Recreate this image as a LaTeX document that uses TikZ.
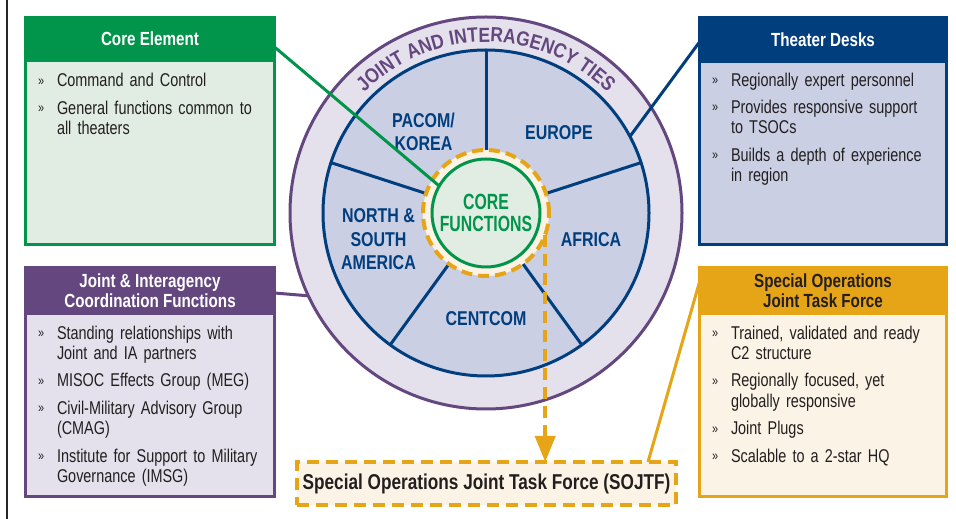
\documentclass[tikz,border=0pt]{standalone}
\usepackage{fontspec}
\setmainfont{Liberation Sans}[FakeStretch=0.8]
\newfontfamily\bodyf{Liberation Sans}[FakeStretch=0.78]
\newfontfamily\cffont{Liberation Sans}[FakeStretch=0.72]
\newfontfamily\ringfont{Liberation Sans}[FakeStretch=0.85,LetterSpace=2]
\usetikzlibrary{calc,arrows.meta,decorations.text}
\definecolor{cgreen}{HTML}{00954A}
\definecolor{cgreenl}{HTML}{E1ECE3}
\definecolor{cblue}{HTML}{003E7E}
\definecolor{cbluel}{HTML}{CACFE4}
\definecolor{cpurp}{HTML}{65477F}
\definecolor{cpurpl}{HTML}{E4E1EC}
\definecolor{corange}{HTML}{E6A417}
\definecolor{ccream}{HTML}{FBF3E5}
\definecolor{ctext}{HTML}{231F20}
\newcommand\bul[1]{\noindent\hangindent=19pt\hangafter=1\strut\makebox[19pt][l]{\fontsize{14}{14}\selectfont\raisebox{1.5pt}{»}}#1\par}
\begin{document}
\begin{tikzpicture}[x=1pt,y=1pt,
  circ/.style={circle,inner sep=0pt,outer sep=0pt},
  boxbody/.style={rectangle,inner sep=0pt,outer sep=0pt,line width=3pt},
  boxhead/.style={rectangle,inner sep=0pt,outer sep=0pt,align=center,
    font=\bfseries\fontsize{19}{20.5}\selectfont},
  bodytxt/.style={anchor=north west,inner sep=0pt,outer sep=0pt,text width=232pt,
    align=left,text=ctext,font=\bodyf\fontsize{18.5}{20.7}\selectfont},
  lbl/.style={inner sep=0pt,align=center,text=cblue,
    font=\bfseries\fontsize{20}{23.5}\selectfont},
  spoke/.style={draw=cblue,line width=3pt},
  conn/.style={line width=3pt}]
\useasboundingbox (0,0) rectangle (956,519);
\fill[white] (0,0) rectangle (956,519);
\draw[line width=1.2pt,black!85] (7,0) -- (7,519);
% wheel
\node[circ,draw=cpurp,fill=cpurpl,line width=3pt,minimum size=392pt] (outer) at (486,306) {};
\node[circ,draw=cblue,fill=cbluel,line width=3pt,minimum size=326pt] (inner) at (486,306) {};
\foreach \a in {90,18,162,234,306} \draw[spoke] (inner.center) -- (inner.\a);
\node[circ,draw=corange,fill=ccream,line width=4pt,dash pattern=on 11pt off 6pt,minimum size=126pt] (ring) at (486,306) {};
\path[decorate,decoration={text along path,text align=center,
  text={|\ringfont\bfseries\fontsize{20.5}{20.5}\selectfont\color{cpurp}|JOINT AND INTERAGENCY TIES}}]
  ($(outer.center)+(150:171)$) arc[start angle=150,end angle=30,radius=171];
\node[lbl] (pacom) at (423.5,387.2) {PACOM/\\KOREA};
\node[lbl] (europe) at (559,386) {EUROPE};
\node[lbl] (nsa) at (378.5,279.5) {NORTH \&\\SOUTH\\AMERICA};
\node[lbl] (africa) at (591,279) {AFRICA};
\node[lbl] (centcom) at (486,200) {CENTCOM};
% boxes
\node[boxbody,draw=cgreen,fill=cgreenl,minimum width=249pt,minimum height=227pt] (corebox) at (150,388) {};
\node[boxhead,fill=cgreen,text=white,minimum width=252pt,minimum height=46pt] (corehead) at (150,480) {Core Element};
\node[boxbody,draw=cblue,fill=cbluel,minimum width=247pt,minimum height=227pt] (thbox) at (823,388) {};
\node[boxhead,fill=cblue,text=white,minimum width=250pt,minimum height=47pt] (thhead) at (823,479.5) {Theater Desks};
\node[boxbody,draw=cpurp,fill=cpurpl,minimum width=249pt,minimum height=229pt] (jibox) at (150,137) {};
\node[boxhead,fill=cpurp,text=white,minimum width=252pt,minimum height=49pt] (jihead) at (150,228.5) {Joint \& Interagency\\Coordination Functions};
\node[boxbody,draw=corange,fill=ccream,minimum width=247pt,minimum height=229pt] (sobox) at (823,137) {};
\node[boxhead,fill=corange,text=ctext,minimum width=250pt,minimum height=49pt] (sohead) at (823,228.5) {Special Operations\\Joint Task Force};
\node[rectangle,inner sep=0pt,outer sep=0pt,draw=corange,fill=ccream,line width=4pt,
  dash pattern=on 12pt off 7pt,minimum width=379pt,minimum height=43pt,text=ctext,
  font=\bfseries\fontsize{21.5}{22}\selectfont] (sojtfb) at (486.5,35.5) {Special Operations Joint Task Force (SOJTF)};
% core
\node[circ,draw=cgreen,fill=cgreenl,line width=3pt,minimum size=108pt,align=center,text=cgreen,
  font=\cffont\bfseries\fontsize{22}{21.5}\selectfont] (core) at (486,306) {CORE\\FUNCTIONS};
% connectors
\coordinate (gA) at ($(corebox.north east)+(0,-29.5)$);
\coordinate (bA) at ($(thbox.north west)+(0,-24.5)$);
\coordinate (pA) at ($(jibox.north east)+(0,-25.5)$);
\coordinate (oA) at ($(sobox.north west)+(0,-14.5)$);
\coordinate (oB) at ($(sojtfb.north east)+(-28,0)$);
\draw[conn,cgreen] (gA) -- (core.150);
\draw[conn,cblue] (bA) -- (inner.28.7);
\draw[conn,cpurp] (pA) -- (outer.205.8);
\draw[conn,corange] (oA) -- (oB);
\draw[line width=4pt,corange,dash pattern=on 12pt off 7pt,-{Triangle[length=26pt,width=20pt]}] (ring.-20) -- (ring.-20 |- sojtfb.north);
% lists
\node[bodytxt] (corelist) at (38,446.6) {\setlength\parskip{6.5pt}%
\bul{Command and Control}\bul{General functions common to\newline all theaters}};
\node[bodytxt] (thlist) at (712,447.4) {\setlength\parskip{6.5pt}%
\bul{Regionally expert personnel}\bul{Provides responsive support\newline to TSOCs}\bul{Builds a depth of experience\newline in region}};
\node[bodytxt] (jilist) at (38,194.4) {\setlength\parskip{6.5pt}%
\bul{Standing relationships with\newline Joint and IA partners}\bul{MISOC Effects Group (MEG)}\bul{Civil-Military Advisory Group\newline (CMAG)}\bul{Institute for Support to Military\newline Governance (IMSG)}};
\node[bodytxt] (solist) at (712,194.4) {\setlength\parskip{6.5pt}%
\bul{Trained, validated and ready\newline C2 structure}\bul{Regionally focused, yet\newline globally responsive}\bul{Joint Plugs}\bul{Scalable to a 2-star HQ}};
\end{tikzpicture}
\end{document}
